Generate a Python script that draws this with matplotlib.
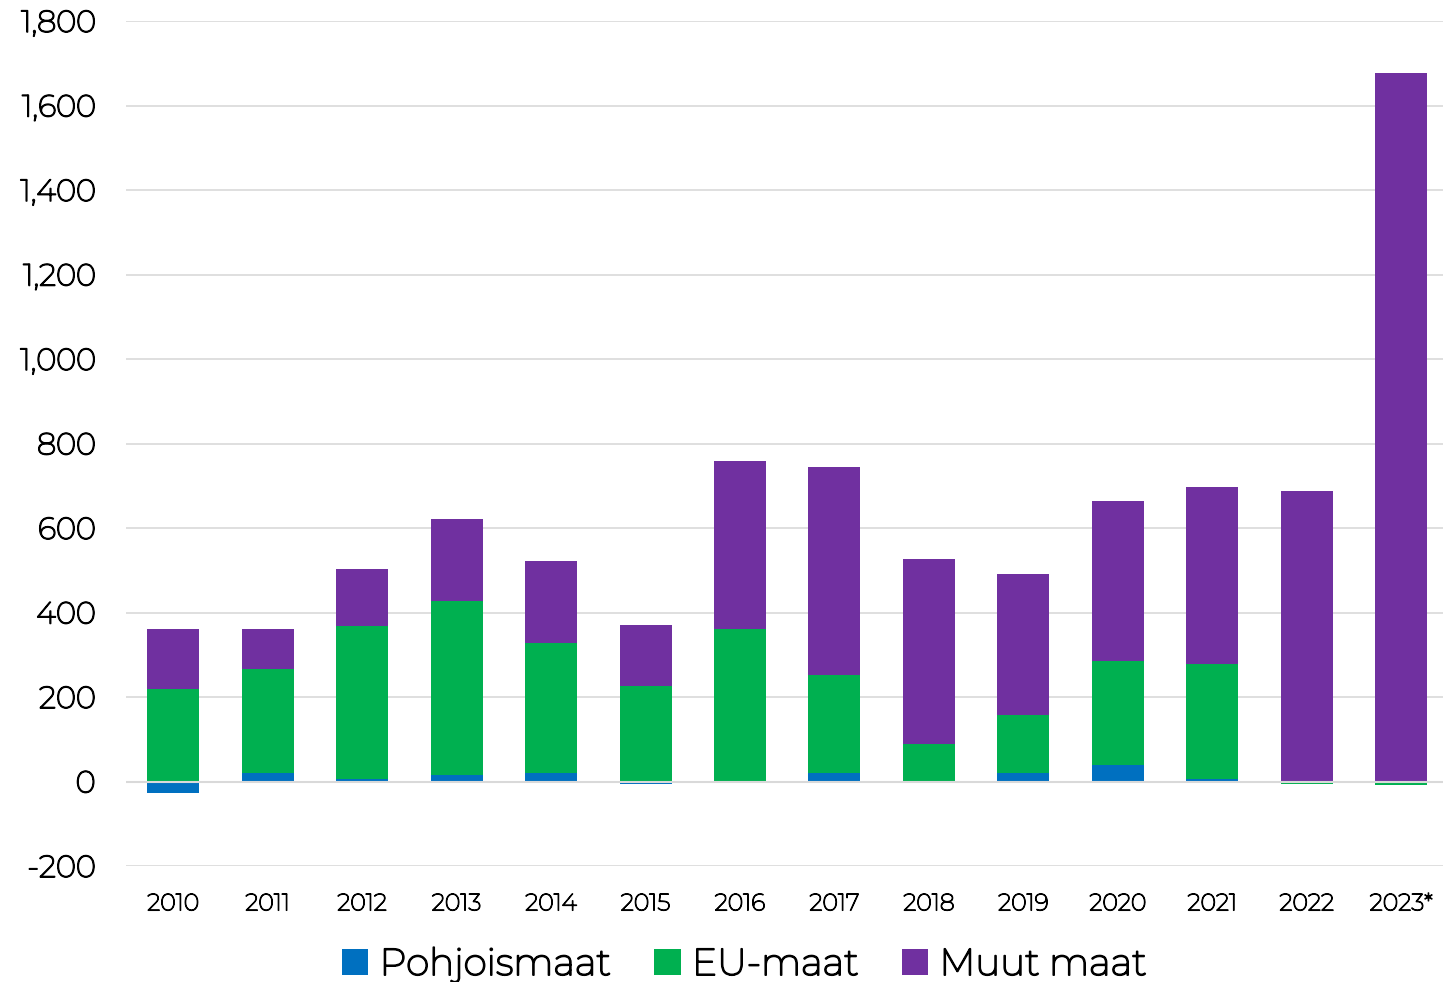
import matplotlib
matplotlib.use("Agg")
import matplotlib.pyplot as plt
import matplotlib.patheffects as pe
import numpy as np
from matplotlib.ticker import FuncFormatter

years = ["2010", "2011", "2012", "2013", "2014", "2015", "2016",
         "2017", "2018", "2019", "2020", "2021", "2022", "2023*"]
pohjoismaat = [-26, 21, 7, 16, 21, -5, 0, 21, 0, 21, 40, 6, 0, -4]
eu_maat = [220, 246, 360, 412, 308, 225, 362, 232, 88, 137, 246, 271, -5, -5]
muut_maat = [140, 95, 137, 194, 194, 146, 397, 492, 439, 332, 379, 421, 688, 1677]

series = [("Pohjoismaat", pohjoismaat, "#0070C0"),
          ("EU-maat", eu_maat, "#00B050"),
          ("Muut maat", muut_maat, "#7030A0")]

# only the thin variable Montserrat is installed, so thicken it with a stroke
plt.rcParams['font.family'] = ['Montserrat', 'DejaVu Sans']

fig = plt.figure(figsize=(14.43, 9.82), dpi=100)
ax = fig.add_axes([0.0873, 0.1181, 0.9165, 0.8605])

x = np.arange(len(years))
pos_bottom = np.zeros(len(years))
neg_bottom = np.zeros(len(years))
for name, vals, col in series:
    v = np.array(vals, dtype=float)
    bottom = np.where(v >= 0, pos_bottom, neg_bottom)
    ax.bar(x, v, width=0.55, bottom=bottom, color=col, label=name, zorder=2)
    pos_bottom += np.where(v >= 0, v, 0)
    neg_bottom += np.where(v < 0, v, 0)

ax.axhline(0, color="#d9d9d9", lw=1.5, zorder=3)
ax.set_ylim(-200, 1800)
ax.set_xlim(-0.5, len(years) - 0.5)
ax.set_yticks(range(-200, 1801, 200))
ax.yaxis.set_major_formatter(FuncFormatter(lambda v, p: f"{int(v):,}"))
ax.set_xticks(x)
ax.set_xticklabels(years)
ax.grid(axis="y", color="#d9d9d9", lw=1.2, zorder=0)
ax.set_axisbelow(True)
for s in ax.spines.values():
    s.set_visible(False)
ax.tick_params(axis="y", length=0, labelsize=22, pad=22, colors="black")
ax.tick_params(axis="x", length=0, labelsize=17, pad=19, colors="black")

handles, labels = ax.get_legend_handles_labels()
leg = fig.legend(handles, labels, loc="center", bbox_to_anchor=(0.516, 0.018), ncol=3,
                 frameon=False, fontsize=27, handlelength=0.7, handleheight=0.7,
                 handletextpad=0.3, columnspacing=1.15)

fig.canvas.draw()
for t in ax.get_yticklabels():
    t.set_path_effects([pe.withStroke(linewidth=1.1, foreground="black")])
for t in ax.get_xticklabels():
    t.set_path_effects([pe.withStroke(linewidth=0.9, foreground="black")])
for t in leg.get_texts():
    t.set_path_effects([pe.withStroke(linewidth=1.3, foreground="black")])

fig.savefig("out.png", dpi=100)
